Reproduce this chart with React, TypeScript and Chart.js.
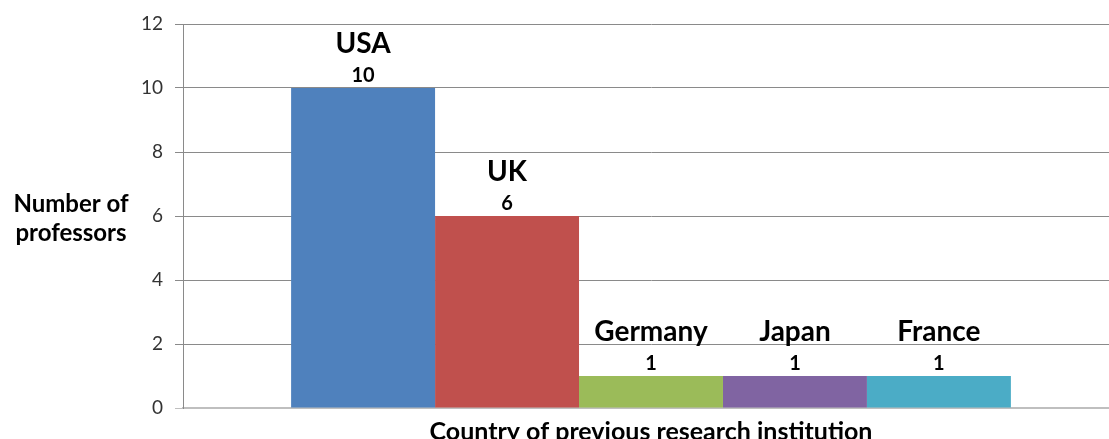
import React, { useEffect, useRef } from "react";
import { Chart, registerables } from "chart.js";

Chart.register(...registerables);

const countries = ["USA", "UK", "Germany", "Japan", "France"];
const professors = [10, 6, 1, 1, 1];
const barColors = ["#4F81BD", "#C0504D", "#9BBB59", "#8064A2", "#4BACC6"];
const yTitleLines = ["Number of", "professors"];
const xTitle = "Country of previous research institution";

const FONT = "Lato, 'Open Sans', sans-serif";

const labelPlugin = {
  id: "customLabels",
  afterDatasetsDraw(chart: any) {
    const ctx = chart.ctx;
    ctx.save();
    ctx.fillStyle = "#000";
    ctx.textAlign = "center";
    ctx.textBaseline = "alphabetic";
    chart.data.datasets.forEach((ds: any, i: number) => {
      const meta = chart.getDatasetMeta(i);
      meta.data.forEach((el: any, j: number) => {
        const x = el.x;
        const y = el.y;
        ctx.font = `bold 20px ${FONT}`;
        ctx.fillText(String(ds.data[j]), x, y - 6);
        ctx.font = `bold 28px ${FONT}`;
        ctx.fillText(ds.label, x, y - 35);
      });
    });
    ctx.restore();
  },
  afterDraw(chart: any) {
    const ctx = chart.ctx;
    const area = chart.chartArea;
    ctx.save();
    ctx.fillStyle = "#000";
    ctx.textAlign = "center";
    ctx.textBaseline = "alphabetic";
    ctx.font = `bold 24px ${FONT}`;
    ctx.fillText(yTitleLines[0], 71, 212);
    ctx.fillText(yTitleLines[1], 71, 241);
    ctx.font = `bold 25px ${FONT}`;
    ctx.fillText(xTitle, (area.left + area.right) / 2, area.bottom + 32);
    ctx.restore();
  },
};

export default function App() {
  const ref = useRef<HTMLCanvasElement>(null);
  useEffect(() => {
    if (!ref.current) return;
    const chart = new Chart(ref.current, {
      type: "bar",
      data: {
        labels: [""],
        datasets: countries.map((c, i) => ({
          label: c,
          data: [professors[i]],
          backgroundColor: barColors[i],
          borderWidth: 0,
          barPercentage: 1,
          categoryPercentage: 0.769,
        })),
      },
      options: {
        responsive: false,
        animation: false,
        layout: { padding: { left: 0, right: 21, top: 24, bottom: 0 } },
        plugins: {
          legend: { display: false },
          tooltip: { enabled: false },
          title: { display: false },
        },
        scales: {
          x: {
            grid: { display: false, drawTicks: false },
            ticks: { display: false },
            border: { color: "#bfbfbf", width: 2 },
            afterFit: (s: any) => {
              s.height = 42;
            },
          },
          y: {
            min: 0,
            max: 12,
            ticks: {
              stepSize: 2,
              padding: 12,
              color: "#333333",
              font: { family: FONT, size: 19 },
            },
            grid: {
              color: (c: any) => (c.tick && c.tick.value === 0 ? "#bfbfbf" : "#8a8a8a"),
              lineWidth: 1,
              tickLength: 8,
            },
            border: { color: "#8a8a8a", width: 1 },
            afterFit: (s: any) => {
              s.width = 183;
            },
          },
        },
      },
      plugins: [labelPlugin],
    });
    return () => chart.destroy();
  }, []);
  return (
    <div
      style={{
        position: "fixed",
        left: 0,
        top: 0,
        width: 1109,
        height: 439,
        overflow: "hidden",
        background: "#fff",
      }}
    >
      <canvas ref={ref} width={1140} height={450} style={{ display: "block" }} />
    </div>
  );
}
